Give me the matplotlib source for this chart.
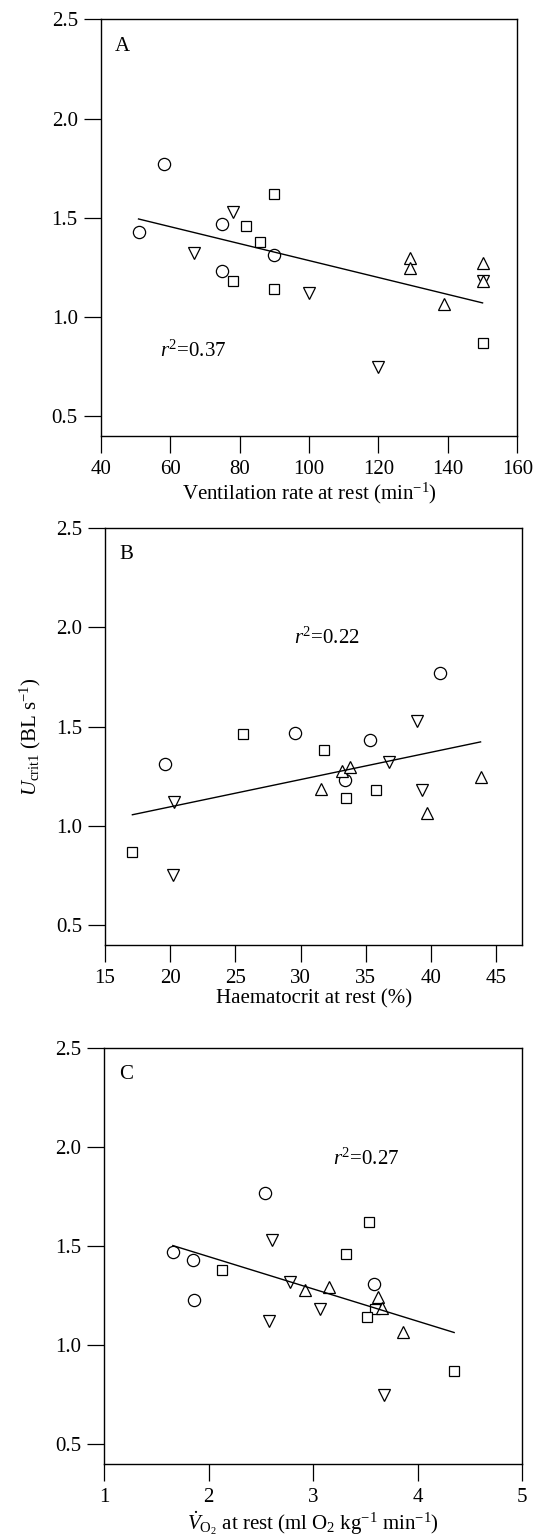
import numpy as np
import matplotlib
matplotlib.use("Agg")
import matplotlib.pyplot as plt

plt.rcParams['font.family'] = ['Liberation Serif', 'DejaVu Serif']
plt.rcParams['mathtext.fontset'] = 'custom'
plt.rcParams['mathtext.rm'] = 'Liberation Serif'
plt.rcParams['mathtext.it'] = 'Liberation Serif:italic'
plt.rcParams['font.size'] = 15

# Panel A: ventilation rate at rest (min-1) vs Ucrit1
a_circle_x = [50.9, 58.1, 74.9, 74.9, 89.9]
a_circle_y = [1.43, 1.77, 1.47, 1.23, 1.31]
a_square_x = [89.9, 81.9, 85.9, 78.0, 89.9, 150.0]
a_square_y = [1.62, 1.46, 1.38, 1.18, 1.14, 0.87]
a_down_x = [78.0, 66.9, 100.0, 120.0, 150.0]
a_down_y = [1.53, 1.32, 1.12, 0.75, 1.18]
a_up_x = [129.0, 129.0, 150.0, 150.0, 139.0]
a_up_y = [1.295, 1.245, 1.273, 1.18, 1.065]

# Panel B: haematocrit at rest (%)
b_circle_x = [19.6, 29.6, 35.3, 33.4, 40.7]
b_circle_y = [1.31, 1.47, 1.43, 1.23, 1.77]
b_square_x = [25.6, 31.8, 33.5, 35.8, 17.1]
b_square_y = [1.46, 1.38, 1.14, 1.18, 0.87]
b_down_x = [20.3, 20.2, 36.8, 38.9, 39.3]
b_down_y = [1.12, 0.75, 1.32, 1.53, 1.18]
b_up_x = [31.6, 33.2, 33.8, 43.8, 39.7]
b_up_y = [1.185, 1.278, 1.294, 1.247, 1.066]

# Panel C: VO2 at rest (ml O2 kg-1 min-1)
c_circle_x = [1.656, 1.845, 1.855, 2.537, 3.577]
c_circle_y = [1.47, 1.43, 1.23, 1.77, 1.31]
c_square_x = [2.129, 3.529, 3.310, 3.591, 3.515, 4.348]
c_square_y = [1.38, 1.62, 1.46, 1.18, 1.14, 0.87]
c_down_x = [2.602, 2.778, 3.065, 2.576, 3.679]
c_down_y = [1.53, 1.32, 1.18, 1.12, 0.75]
c_up_x = [2.922, 3.147, 3.617, 3.662, 3.858]
c_up_y = [1.277, 1.294, 1.243, 1.187, 1.064]

panels = [
    dict(letter='A', xlim=(40, 160), xticks=[40, 60, 80, 100, 120, 140, 160],
         xlabel='Ventilation rate at rest (min$^{-1}$)',
         r2='0.37', r2_pos=(57.1, 0.80),
         circle=(a_circle_x, a_circle_y), square=(a_square_x, a_square_y),
         down=(a_down_x, a_down_y), up=(a_up_x, a_up_y),
         rect=[0.1889, 0.7165, 0.7816, 0.2709]),
    dict(letter='B', xlim=(15, 47), xticks=[15, 20, 25, 30, 35, 40, 45],
         xlabel='Haematocrit at rest (%)',
         r2='0.22', r2_pos=(29.5, 1.917),
         circle=(b_circle_x, b_circle_y), square=(b_square_x, b_square_y),
         down=(b_down_x, b_down_y), up=(b_up_x, b_up_y),
         rect=[0.1970, 0.3856, 0.7829, 0.2711]),
    dict(letter='C', xlim=(1, 5), xticks=[1, 2, 3, 4, 5],
         xlabel=r'$\dot{V}_{\mathrm{O}_2}$ at rest (ml O$_2$ kg$^{-1}$ min$^{-1}$)',
         r2='0.27', r2_pos=(3.186, 1.909),
         circle=(c_circle_x, c_circle_y), square=(c_square_x, c_square_y),
         down=(c_down_x, c_down_y), up=(c_up_x, c_up_y),
         rect=[0.1957, 0.0481, 0.7842, 0.2705]),
]

fig = plt.figure(figsize=(5.33, 15.38), dpi=100)

for p in panels:
    ax = fig.add_axes(p['rect'])
    style = dict(linestyle='none', markerfacecolor='white', markeredgecolor='black',
                 markeredgewidth=0.9)
    ax.plot(*p['circle'], marker='o', markersize=8.8, **style)
    ax.plot(*p['square'], marker='s', markersize=7.6, **style)
    ax.plot(*p['down'], marker='v', markersize=9, **style)
    ax.plot(*p['up'], marker='^', markersize=9, **style)

    # least-squares regression over all points
    xs = np.concatenate([p[k][0] for k in ('circle', 'square', 'down', 'up')])
    ys = np.concatenate([p[k][1] for k in ('circle', 'square', 'down', 'up')])
    slope, icpt = np.polyfit(xs, ys, 1)
    xl = np.array([xs.min(), xs.max()])
    ax.plot(xl, slope * xl + icpt, color='black', linewidth=1.0)

    ax.text(*p['r2_pos'], r'$r^2$=' + p['r2'], fontsize=15, va='baseline', ha='left')
    ax.text(0.035, 0.925, p['letter'], transform=ax.transAxes, fontsize=15,
            va='baseline', ha='left')

    ax.set_xlim(*p['xlim'])
    ax.set_ylim(0.4, 2.5)
    ax.set_xticks(p['xticks'])
    ax.set_yticks([0.5, 1.0, 1.5, 2.0, 2.5])
    ax.set_yticklabels(['0.5', '1.0', '1.5', '2.0', '2.5'])
    ax.tick_params(direction='out', length=12.5, width=0.9, labelsize=15)
    ax.tick_params(axis='x', pad=5)
    ax.tick_params(axis='y', pad=4)
    for s in ax.spines.values():
        s.set_linewidth(1.0)
    ax.set_xlabel(p['xlabel'], fontsize=15, labelpad=1)
    if p['letter'] == 'B':
        ax.set_ylabel(r'$U_{\mathrm{crit1}}$ (BL s$^{-1}$)', fontsize=15, labelpad=9)

fig.savefig('out.png', dpi=100)
